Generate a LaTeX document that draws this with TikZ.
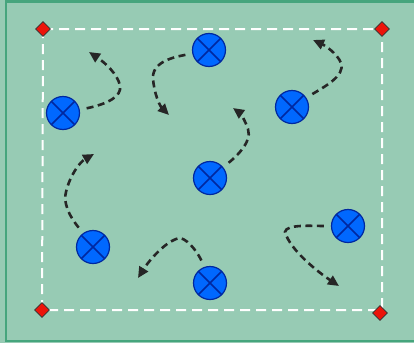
\documentclass[tikz,border=0pt]{standalone}
\usetikzlibrary{shapes.geometric,arrows.meta}
\definecolor{pitch}{RGB}{151,203,180}
\definecolor{pitchline}{RGB}{70,165,125}
\definecolor{ballfill}{RGB}{0,104,255}
\definecolor{balledge}{RGB}{0,40,160}
\definecolor{conered}{RGB}{235,20,10}
\tikzset{
  ball/.style={circle, minimum size=33pt, inner sep=0pt, fill=ballfill, draw=balledge, line width=1.2pt,
    path picture={\draw[balledge, line width=1.5pt]
      (path picture bounding box.north west) -- (path picture bounding box.south east)
      (path picture bounding box.north east) -- (path picture bounding box.south west);}},
  cone/.style={diamond, minimum size=15pt, inner sep=0pt, fill=conered, draw=black!80, line width=0.7pt},
  mv/.style={line width=2.6pt, draw=black!85, dash pattern=on 7pt off 4.5pt, shorten <=7pt,
    -{Triangle[length=11pt,width=10pt]}},
  field/.style={white, line width=2pt, dash pattern=on 10pt off 6pt}
}
\begin{document}
\begin{tikzpicture}[x=1pt,y=-1pt]
\useasboundingbox (0,0) rectangle (414,343);
\fill[pitch] (0,0) rectangle (414,343);
\draw[pitchline, line width=2.5pt] (430,1.5) -- (6,1.5) -- (6,341) -- (430,341);
% field corners
\coordinate (c1) at (43,29);
\coordinate (c2) at (382,29);
\coordinate (c3) at (382,310);
\coordinate (c4) at (42,310);
\draw[field] (c1) -- (c2) -- (c3) -- (c4) -- cycle;
\node[cone] (d1) at (43,29) {};
\node[cone] (d2) at (382,29) {};
\node[cone] (d3) at (380,313) {};
\node[cone] (d4) at (42,310) {};
% balls
\node[ball] (b1) at (63,113) {};
\node[ball] (b2) at (209,50) {};
\node[ball] (b3) at (292,107) {};
\node[ball] (b4) at (210,178) {};
\node[ball] (b5) at (93,247) {};
\node[ball] (b6) at (210,283) {};
\node[ball] (b7) at (348,226) {};
% arrow ends
\coordinate (e1) at (89,52);
\coordinate (e2) at (169,115);
\coordinate (e3) at (313,40);
\coordinate (e4) at (233,108);
\coordinate (e5) at (94,154);
\coordinate (e6) at (138,278);
\coordinate (e7) at (339,286);
% arrows
\draw[mv] (b1) .. controls (108,104) and (122,96) .. (120,86) .. controls (118,74) and (104,62) .. (e1);
\draw[mv] (b2) .. controls (180,56) and (152,60) .. (153,78) .. controls (154,94) and (160,106) .. (e2);
\draw[mv] (b3) .. controls (322,88) and (346,76) .. (341,63) .. controls (337,53) and (324,45) .. (e3);
\draw[mv] (b4) .. controls (232,160) and (253,143) .. (248,129) .. controls (245,120) and (240,113) .. (e4);
\draw[mv] (b5) .. controls (76,224) and (62,208) .. (66,192) .. controls (70,175) and (80,162) .. (e5);
\draw[mv] (b6) .. controls (200,257) and (190,240) .. (180,238) .. controls (166,240) and (148,262) .. (e6);
\draw[mv] (b7) .. controls (312,226) and (286,224) .. (285,232) .. controls (290,250) and (318,272) .. (e7);
\end{tikzpicture}
\end{document}
